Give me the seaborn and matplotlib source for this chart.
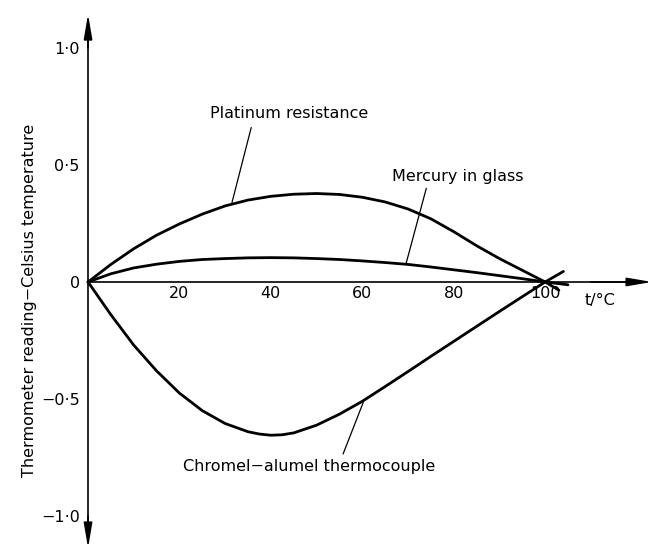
import matplotlib
matplotlib.use('Agg')
import matplotlib.pyplot as plt
import numpy as np
import pandas as pd
import seaborn as sns

# values (reading minus Celsius temperature, K)
t_plat = [0, 5, 10, 15, 20, 25, 30, 35, 40, 45, 50, 55, 60, 65, 70, 75, 80, 85, 90, 95, 100, 103]
plat = [0, 0.075, 0.142, 0.2, 0.248, 0.29, 0.325, 0.35, 0.366, 0.375, 0.378, 0.374, 0.362,
        0.342, 0.312, 0.27, 0.215, 0.155, 0.1, 0.05, 0, -0.035]

t_merc = [0, 5, 10, 15, 20, 25, 30, 35, 40, 45, 50, 55, 60, 65, 70, 75, 80, 85, 90, 95, 100, 105]
merc = [0, 0.035, 0.06, 0.076, 0.088, 0.096, 0.1, 0.103, 0.104, 0.103, 0.1, 0.096, 0.09,
        0.083, 0.075, 0.064, 0.052, 0.04, 0.027, 0.014, 0, -0.012]

t_chrom = [0, 5, 10, 15, 20, 25, 30, 35, 37.5, 40, 42.5, 45, 50, 55, 60, 65, 70, 75, 80, 85, 90,
           95, 100, 104]
chrom = [0, -0.14, -0.27, -0.38, -0.475, -0.55, -0.605, -0.64, -0.65, -0.655, -0.653, -0.645,
         -0.612, -0.565, -0.51, -0.447, -0.383, -0.318, -0.254, -0.19, -0.126, -0.063, 0, 0.045]

x_ticks = [20, 40, 60, 80, 100]
y_ticks = [-1.0, -0.5, 0, 0.5, 1.0]
y_ticklabels = ['\u22121\u00b70', '\u22120\u00b75', '0', '0\u00b75', '1\u00b70']

df = pd.concat([
    pd.DataFrame({'t': t_plat, 'dev': plat, 'kind': 'Platinum resistance'}),
    pd.DataFrame({'t': t_merc, 'dev': merc, 'kind': 'Mercury in glass'}),
    pd.DataFrame({'t': t_chrom, 'dev': chrom, 'kind': 'Chromel\u2212alumel thermocouple'}),
])

sns.set_style('white')
plt.rcParams['font.family'] = ['DejaVu Sans']
plt.rcParams['text.color'] = 'black'
plt.rcParams['xtick.color'] = 'black'
plt.rcParams['ytick.color'] = 'black'

fig = plt.figure(figsize=(6.53, 5.52), dpi=100)
ax = fig.add_axes([0, 0, 1, 1])

sns.lineplot(data=df, x='t', y='dev', units='kind', estimator=None, sort=False,
             color='black', lw=2.0, legend=False, ax=ax,
             solid_joinstyle='round', solid_capstyle='round')
ax.set_xlabel('')
ax.set_ylabel('')

ax.set_xlim(-19.26, 123.6)
ax.set_ylim(-1.154, 1.205)

# axes through the origin
for s in ['top', 'right']:
    ax.spines[s].set_visible(False)
ax.spines['left'].set_position(('data', 0))
ax.spines['bottom'].set_position(('data', 0))
ax.spines['left'].set_bounds(-1.10, 1.10)
ax.spines['bottom'].set_bounds(0, 120)
for s in ['left', 'bottom']:
    ax.spines[s].set_linewidth(1.2)
    ax.spines[s].set_color('black')

arrow = dict(arrowstyle='-|>,head_length=1.0,head_width=0.17', color='black', lw=1.2,
             mutation_scale=15, shrinkA=0, shrinkB=0)
ax.annotate('', xy=(0, 1.145), xytext=(0, 1.0), arrowprops=arrow)
ax.annotate('', xy=(0, -1.137), xytext=(0, -1.0), arrowprops=arrow)
ax.annotate('', xy=(123.4, 0), xytext=(110, 0), arrowprops=arrow)

ax.set_xticks(x_ticks)
ax.set_xticklabels([str(v) for v in x_ticks])
ax.set_yticks(y_ticks)
ax.set_yticklabels(y_ticklabels)
ax.tick_params(axis='y', direction='in', length=11, width=1.0, pad=6, labelsize=11.5)
ax.tick_params(axis='x', direction='in', length=8, width=1.0, pad=3, labelsize=11.5)

ax.text(112, -0.08, 't/\u00b0C', fontsize=11.5, ha='center', va='center')
ax.text(-12.7, -0.08, 'Thermometer reading\u2212Celsius temperature', rotation=90,
        fontsize=11.5, ha='center', va='center')

# curve labels with leader lines
ax.text(26.7, 0.72, 'Platinum resistance', fontsize=11.5, ha='left', va='center')
ax.plot([35.7, 31.5], [0.66, 0.34], color='black', lw=0.9)
ax.text(66.5, 0.45, 'Mercury in glass', fontsize=11.5, ha='left', va='center')
ax.plot([74.0, 69.6], [0.40, 0.08], color='black', lw=0.9)
ax.text(20.8, -0.79, 'Chromel\u2212alumel thermocouple', fontsize=11.5, ha='left', va='center')
ax.plot([55.8, 60.2], [-0.735, -0.515], color='black', lw=0.9)

fig.savefig('out.png', dpi=100)
